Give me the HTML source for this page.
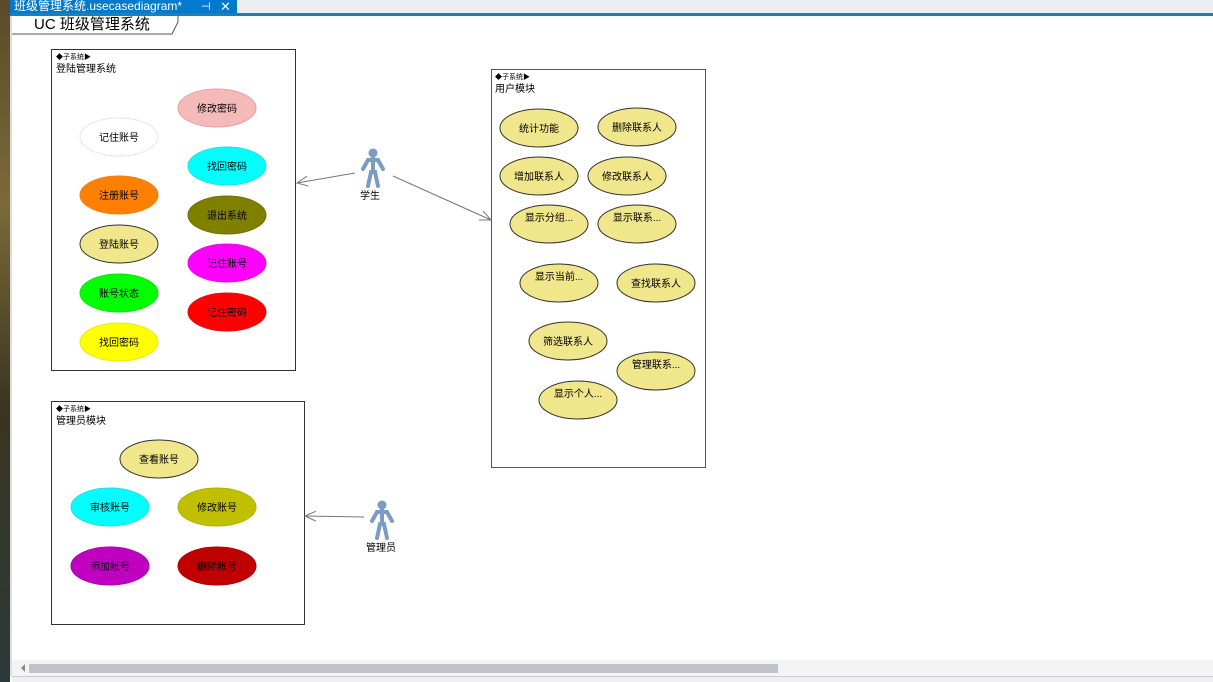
<!DOCTYPE html>
<html><head><meta charset="utf-8"><style>
html,body{margin:0;padding:0;width:1213px;height:682px;overflow:hidden;background:#fff}
text{font-family:"Liberation Sans","Noto Sans CJK SC",sans-serif}
</style></head><body>
<svg width="1213" height="682" xmlns="http://www.w3.org/2000/svg">
<defs>
<marker id="ar" markerWidth="12" markerHeight="12" refX="11" refY="6" orient="auto" markerUnits="userSpaceOnUse">
<path d="M0,1 L11,6 L0,11" fill="none" stroke="#777" stroke-width="1"/>
</marker>
<linearGradient id="bg" x1="0" y1="0" x2="0" y2="1">
<stop offset="0" stop-color="#5a4a2a"/><stop offset="0.3" stop-color="#7a6a3a"/><stop offset="0.6" stop-color="#3a3420"/><stop offset="1" stop-color="#2a3a38"/>
</linearGradient>
</defs>
<rect x="0" y="0" width="1213" height="682" fill="#fff"/>
<rect x="0" y="0" width="10" height="682" fill="url(#bg)"/>
<rect x="10" y="0" width="1203" height="13" fill="#eeeef2"/>
<rect x="10" y="0" width="227" height="13" fill="#007acc"/>
<text x="14" y="10" font-size="12" fill="#fff">班级管理系统.usecasediagram*</text>
<text x="201" y="10" font-size="11" fill="#fff">⊣</text>
<text x="220" y="11" font-size="13" fill="#fff">✕</text>
<rect x="10" y="13" width="1203" height="3" fill="#1c7fb8"/>
<rect x="10" y="16" width="2" height="660" fill="#ddd"/>
<path d="M12,34 L172,34 L178,22 L178,16" fill="none" stroke="#555" stroke-width="1"/>
<text x="34" y="29" font-size="15" fill="#000">UC 班级管理系统</text>

<!-- box 1 -->
<rect x="51.5" y="49.5" width="244" height="321" fill="#fff" stroke="#333"/>
<text x="56" y="59" font-size="7">◆子系统▶</text>
<text x="56" y="72" font-size="10">登陆管理系统</text>
<g font-size="10" text-anchor="middle">
<ellipse cx="217" cy="108" rx="39" ry="19" fill="#f4b9b9" stroke="#e8a0a0"/><text x="217" y="112">修改密码</text>
<ellipse cx="119" cy="137" rx="39" ry="19" fill="#fff" stroke="#e6e6e6"/><text x="119" y="141">记住账号</text>
<ellipse cx="227" cy="166" rx="39" ry="19" fill="#00ffff" stroke="#20e0e0"/><text x="227" y="170">找回密码</text>
<ellipse cx="119" cy="195" rx="39" ry="19" fill="#ff8000" stroke="#f08010"/><text x="119" y="199">注册账号</text>
<ellipse cx="227" cy="215" rx="39" ry="19" fill="#808000" stroke="#707000"/><text x="227" y="219">退出系统</text>
<ellipse cx="119" cy="244" rx="39" ry="19" fill="#f0e68c" stroke="#333"/><text x="119" y="248">登陆账号</text>
<ellipse cx="227" cy="263" rx="39" ry="19" fill="#ff00ff" stroke="#e010e0"/><text x="227" y="267">记住账号</text>
<ellipse cx="119" cy="293" rx="39" ry="19" fill="#00ff00" stroke="#10e010"/><text x="119" y="297">账号状态</text>
<ellipse cx="227" cy="312" rx="39" ry="19" fill="#ff0000" stroke="#e01010"/><text x="227" y="316">记住密码</text>
<ellipse cx="119" cy="342" rx="39" ry="19" fill="#ffff00" stroke="#e8e810"/><text x="119" y="346">找回密码</text>
</g>

<!-- box 2 -->
<rect x="491.5" y="69.5" width="214" height="398" fill="#fff" stroke="#555"/>
<text x="495" y="79" font-size="7">◆子系统▶</text>
<text x="495" y="92" font-size="10">用户模块</text>
<g font-size="10" text-anchor="middle" fill="#f0e68c" stroke="#333">
<ellipse cx="539" cy="128" rx="39" ry="19"/>
<ellipse cx="637" cy="127" rx="39" ry="19"/>
<ellipse cx="539" cy="176" rx="39" ry="19"/>
<ellipse cx="627" cy="176" rx="39" ry="19"/>
<ellipse cx="549" cy="224" rx="39" ry="19"/>
<ellipse cx="637" cy="224" rx="39" ry="19"/>
<ellipse cx="559" cy="283" rx="39" ry="19"/>
<ellipse cx="656" cy="283" rx="39" ry="19"/>
<ellipse cx="568" cy="341" rx="39" ry="19"/>
<ellipse cx="656" cy="371" rx="39" ry="19"/>
<ellipse cx="578" cy="400" rx="39" ry="19"/>
</g>
<g font-size="10" text-anchor="middle">
<text x="539" y="132">统计功能</text>
<text x="637" y="131">删除联系人</text>
<text x="539" y="180">增加联系人</text>
<text x="627" y="180">修改联系人</text>
<text x="549" y="221">显示分组...</text>
<text x="637" y="221">显示联系...</text>
<text x="559" y="280">显示当前...</text>
<text x="656" y="287">查找联系人</text>
<text x="568" y="345">筛选联系人</text>
<text x="656" y="368">管理联系...</text>
<text x="578" y="397">显示个人...</text>
</g>

<!-- box 3 -->
<rect x="51.5" y="401.5" width="253" height="223" fill="#fff" stroke="#333"/>
<text x="56" y="411" font-size="7">◆子系统▶</text>
<text x="56" y="424" font-size="10">管理员模块</text>
<g font-size="10" text-anchor="middle">
<ellipse cx="159" cy="459" rx="39" ry="19" fill="#f0e68c" stroke="#333"/><text x="159" y="463">查看账号</text>
<ellipse cx="110" cy="507" rx="39" ry="19" fill="#00ffff" stroke="#20e0e0"/><text x="110" y="511">审核账号</text>
<ellipse cx="217" cy="507" rx="39" ry="19" fill="#c0c000" stroke="#b0b000"/><text x="217" y="511">修改账号</text>
<ellipse cx="110" cy="566" rx="39" ry="19" fill="#c000c0" stroke="#b000b0"/><text x="110" y="570">添加账号</text>
<ellipse cx="217" cy="566" rx="39" ry="19" fill="#c00000" stroke="#b00000"/><text x="217" y="570">删除账号</text>
</g>

<!-- actors -->
<g fill="#7a9cc0" stroke="#7a9cc0" stroke-linecap="round">
<circle cx="373" cy="153" r="4.5" stroke="none"/>
<path d="M373,158 L373,172 M363,169 L368,160 L378,160 L383,169 M368,186 L371,172 L375,172 L378,186" fill="none" stroke-width="4"/>
<circle cx="382" cy="505" r="4.5" stroke="none"/>
<path d="M382,510 L382,524 M372,521 L377,512 L387,512 L392,521 M377,538 L380,524 L384,524 L387,538" fill="none" stroke-width="4"/>
</g>
<text x="370" y="199" font-size="10" text-anchor="middle">学生</text>
<text x="381" y="551" font-size="10" text-anchor="middle">管理员</text>

<g stroke="#777" stroke-width="1" fill="none" marker-end="url(#ar)">
<line x1="355" y1="173" x2="297" y2="183"/>
<line x1="393" y1="176" x2="491" y2="220"/>
<line x1="364" y1="517" x2="305" y2="516"/>
</g>

<!-- scrollbar -->
<rect x="12" y="660" width="1201" height="16" fill="#f4f4f6"/>
<path d="M21,668 L25,664 L25,672 Z" fill="#888"/>
<rect x="29" y="664" width="749" height="9" fill="#c2c3c9"/>
<rect x="12" y="676" width="1201" height="1" fill="#ccc"/>
<rect x="12" y="677" width="1201" height="5" fill="#f0f0f2"/>
</svg>
</body></html>
